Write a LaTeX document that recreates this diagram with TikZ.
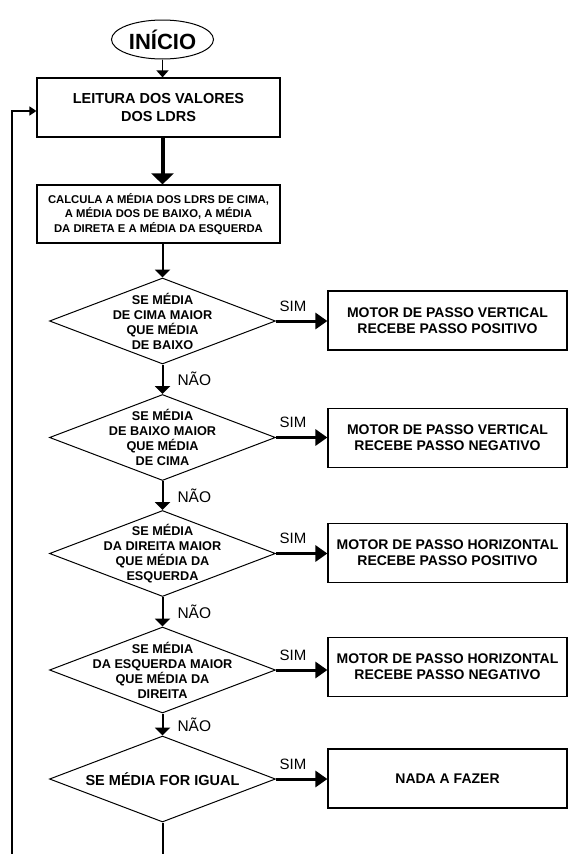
\documentclass[tikz,border=0pt]{standalone}
\usepackage{fontspec}
\setmainfont{Liberation Sans}
\usetikzlibrary{shapes.geometric,arrows.meta}
\begin{document}
\begin{tikzpicture}[x=1pt,y=-1pt,
  box/.style={draw, line width=1.2pt, inner sep=0pt, align=center},
  lbox/.style={box, minimum width=243pt, minimum height=59pt},
  rbox/.style={box, minimum width=239pt, minimum height=59pt, font=\bfseries\fontsize{14}{16}\selectfont},
  dshape/.style={diamond, draw, line width=1pt, inner sep=0pt, minimum width=226pt, minimum height=86pt},
  dtext/.style={align=center, inner sep=0pt, font=\bfseries\fontsize{12.7}{15}\selectfont},
  lbl/.style={inner sep=0pt, font=\fontsize{15.5}{18}\selectfont},
  thin/.style={line width=2pt, -{Triangle[length=8pt,width=15pt]}},
  thick/.style={line width=4pt, -{Triangle[length=11pt,width=22pt]}},
  simarrow/.style={line width=3pt, -{Triangle[length=12pt,width=16pt]}},
]
\useasboundingbox (0,0) rectangle (569,854);

\node[ellipse, draw, line width=1pt, minimum width=102pt, minimum height=39pt, inner sep=0pt,
      font=\bfseries\fontsize{22}{26}\selectfont] (ini) at (162.5,39.5) {INÍCIO};

\node[lbox, font=\bfseries\fontsize{14.5}{18}\selectfont] (b1) at (158.5,107.5) {LEITURA DOS VALORES\\DOS LDRS};
\node[lbox, minimum height=58pt, font=\bfseries\fontsize{11.3}{14.7}\selectfont] (b2) at (158.5,214)
  {CALCULA A MÉDIA DOS LDRS DE CIMA,\\A MÉDIA DOS DE BAIXO, A MÉDIA\\DA DIRETA E A MÉDIA DA ESQUERDA};

\node[dshape] (d1) at (162.5,321) {};
\node[dtext] at (d1) {SE MÉDIA\\DE CIMA MAIOR\\QUE MÉDIA\\DE BAIXO};
\node[dshape] (d2) at (162.5,437.5) {};
\node[dtext] at (d2) {SE MÉDIA\\DE BAIXO MAIOR\\QUE MÉDIA\\DE CIMA};
\node[dshape] (d3) at (162.5,553.5) {};
\node[dtext] at (d3) {SE MÉDIA\\DA DIREITA MAIOR\\QUE MÉDIA DA\\ESQUERDA};
\node[dshape] (d4) at (162.5,670) {};
\node[dtext] at (d4) {SE MÉDIA\\DA ESQUERDA MAIOR\\QUE MÉDIA DA\\DIREITA};
\node[dshape] (d5) at (162.5,779) {};
\node[dtext, font=\bfseries\fontsize{14.5}{17}\selectfont] at (d5) {SE MÉDIA FOR IGUAL};

\node[rbox] (r1) at (447.5,320.5) {MOTOR DE PASSO VERTICAL\\RECEBE PASSO POSITIVO};
\node[rbox] (r2) at (447.5,438) {MOTOR DE PASSO VERTICAL\\RECEBE PASSO NEGATIVO};
\node[rbox] (r3) at (447.5,553) {MOTOR DE PASSO HORIZONTAL\\RECEBE PASSO POSITIVO};
\node[rbox] (r4) at (447.5,667) {MOTOR DE PASSO HORIZONTAL\\RECEBE PASSO NEGATIVO};
\node[rbox] (r5) at (447.5,778.5) {NADA A FAZER};

\coordinate (lb) at (12,854);
\coordinate (le) at (162.5,854);

\draw[line width=1.5pt, -{Triangle[length=7pt,width=12pt]}] (ini.south) -- (ini.south |- b1.north);
\draw[thick] (b1.south -| ini.south) -- (b2.north -| ini.south);
\draw[thin] (b2.south -| d1.north) -- (d1.north);
\foreach \a/\b in {d1/d2,d2/d3,d3/d4,d4/d5}{
  \draw[thin] (\a.south) -- node[lbl, midway, anchor=west, xshift=14pt] {NÃO} (\b.north);
}
\foreach \a/\b in {d1/r1,d2/r2,d3/r3,d4/r4,d5/r5}{
  \draw[simarrow] (\a.east) -- node[lbl, pos=0.33, anchor=south, yshift=8pt, font=\fontsize{15}{18}\selectfont] {SIM} (\a.east -| \b.west);
}
\draw[line width=2pt] (d5.south) -- (le);
\draw[line width=1.5pt, -{Triangle[length=7pt,width=9pt]}] (lb) |- ([yshift=-3.5pt]b1.west);
\end{tikzpicture}
\end{document}
